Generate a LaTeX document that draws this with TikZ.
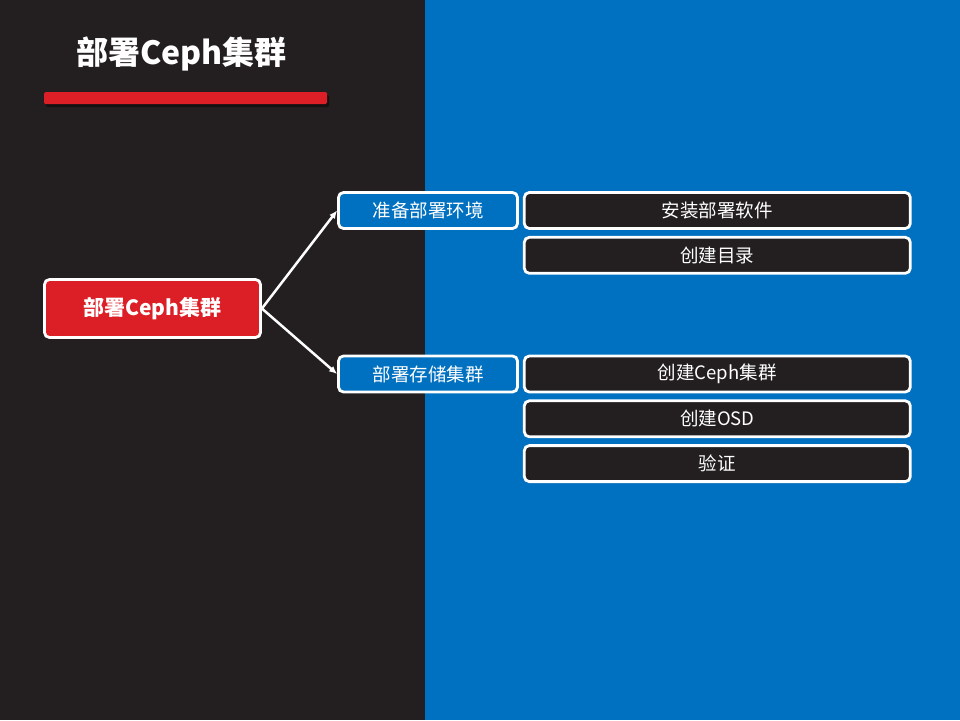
\documentclass[tikz,border=0pt]{standalone}
\usepackage{fontspec}
\setmainfont{Noto Sans CJK SC}
\usetikzlibrary{positioning}
\usetikzlibrary{arrows.meta}

\definecolor{darkbg}{HTML}{231F20}
\definecolor{bluebg}{HTML}{0070C0}
\definecolor{redbox}{HTML}{DC1F26}

\tikzset{
  box/.style={draw=white, line width=2.8pt, rounded corners=5pt, text=white, inner sep=0pt},
  mainbox/.style={box, fill=redbox, minimum width=216pt, minimum height=58pt, font=\bfseries\fontsize{21}{24}\selectfont},
  stepbox/.style={box, fill=bluebg, minimum width=179pt, minimum height=36pt, font=\fontsize{18.5}{22}\selectfont},
  leafbox/.style={box, fill=darkbg, minimum width=386pt, minimum height=36pt, font=\fontsize{18.5}{22}\selectfont},
  link/.style={draw=white, line width=2.5pt, -{Latex[length=8pt,width=7pt]}}
}

\begin{document}
\begin{tikzpicture}[x=1pt,y=-1pt]
        \useasboundingbox (0,0) rectangle (960,720);
        \fill[darkbg] (0,0) rectangle (425,720);
        \fill[bluebg] (425,0) rectangle (960,720);

        % title and bar
        \node[anchor=west, text=white, font=\bfseries\fontsize{32}{36}\selectfont, inner sep=0pt] (title) at (76,54) {部署Ceph集群};
        \fill[black, opacity=.45, rounded corners=1.5pt] (46,95) rectangle (329,107);
        \fill[redbox, rounded corners=1.5pt] (44,92) rectangle (327,104);

        \node[mainbox] (main) at (152.5,308.5) {部署Ceph集群};
        \node[stepbox] (prep) at (428,210.5) {准备部署环境};
        \node[stepbox] (deploy) at (428,374) {部署存储集群};

        \node[leafbox, right=4pt of prep] (soft) {安装部署软件};
        \node[leafbox, below=6pt of soft] (dir) {创建目录};
        \node[leafbox, right=4pt of deploy] (ceph) {创建Ceph集群};
        \node[leafbox, below=6pt of ceph] (osd) {创建OSD};
        \node[leafbox, below=6pt of osd] (check) {验证};

        \draw[link] (main.east) -- (prep.west);
        \draw[link] (main.east) -- (deploy.west);
      \end{tikzpicture}
\end{document}
